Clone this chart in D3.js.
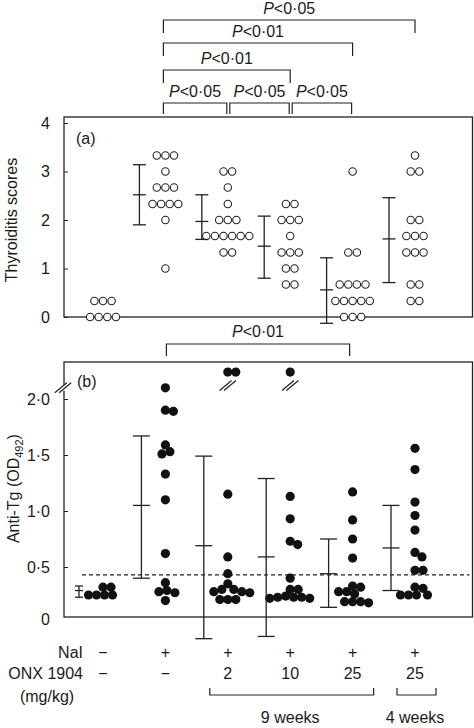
<!DOCTYPE html>
<html><head><meta charset="utf-8">
<script src="https://cdn.jsdelivr.net/npm/d3@7"></script>
<style>
body{margin:0;background:#fff}
text{font-family:"Liberation Sans",Arial,Helvetica,sans-serif;fill:#1a1a1a}
</style>
</head><body>
<svg id="c" width="474" height="728"></svg>
<script>
// ---------------- DATA ----------------
const groups = ["Control", "NaI", "NaI+ONX2", "NaI+ONX10", "NaI+ONX25 9wk", "NaI+ONX25 4wk"];
const naiLabels = ["\u2212", "+", "+", "+", "+", "+"];
const onxLabels = ["\u2212", "\u2212", "2", "10", "25", "25"];

// (a) Thyroiditis scores (individual animals)
const scoresCtrl   = [0.33, 0.33, 0.33, 0, 0, 0, 0];
const scoresNaI    = [3.33, 3.33, 3.33, 3, 2.67, 2.67, 2.67, 2.33, 2.33, 2.33, 2.33, 2, 1];
const scoresOnx2   = [3, 3, 2.67, 2.33, 2, 2, 2, 1.67, 1.67, 1.67, 1.67, 1.67, 1.67, 1.33, 1.33];
const scoresOnx10  = [2.33, 2.33, 2, 2, 2, 1.67, 1.33, 1.33, 1.33, 1, 1, 0.67, 0.67];
const scoresOnx25a = [3, 1.33, 1.33, 0.67, 0.67, 0.67, 0.67, 0.33, 0.33, 0.33, 0.33, 0.33, 0, 0, 0];
const scoresOnx25b = [3.33, 3, 3, 2, 2, 1.67, 1.67, 1.67, 1.33, 1.33, 1.33, 0.67, 0.67, 0.33, 0.33];
// mean and mean±s.d. for (a)
const meanA = [null, 2.52, 1.97, 1.46, 0.56, 1.61];
const hiA   = [null, 3.14, 2.52, 2.08, 1.22, 2.46];
const loA   = [null, 1.90, 1.60, 0.80, -0.13, 0.71];

// (b) Anti-Tg OD492 (values of 2.24 are plotted above the axis break)
const offScale = 2.24;
const tgCtrl   = [0.32, 0.32, 0.25, 0.25, 0.25, 0.25];
const tgNaI    = [2.10, 1.90, 1.89, 1.59, 1.53, 1.51, 1.33, 1.10, 0.62, 0.36, 0.29, 0.28, 0.27, 0.20];
const tgOnx2   = [offScale, offScale, 1.15, 0.59, 0.44, 0.35, 0.30, 0.30, 0.28, 0.28, 0.27, 0.21, 0.21, 0.21];
const tgOnx10  = [offScale, 1.13, 0.93, 0.73, 0.70, 0.40, 0.30, 0.30, 0.24, 0.23, 0.23, 0.23, 0.22, 0.22];
const tgOnx25a = [1.17, 0.92, 0.75, 0.58, 0.33, 0.32, 0.28, 0.28, 0.26, 0.19, 0.19, 0.19, 0.18];
const tgOnx25b = [1.56, 1.37, 1.08, 0.96, 0.83, 0.63, 0.59, 0.47, 0.47, 0.32, 0.31, 0.25, 0.25, 0.25, 0.25];
const meanB = [0.29, 1.05, 0.69, 0.59, 0.44, 0.67];
const hiB   = [0.33, 1.67, 1.49, 1.29, 0.75, 1.05];
const loB   = [0.23, 0.40, -0.14, -0.12, 0.14, 0.29];
const cutoffB = 0.43;

const ticksA = [0, 1, 2, 3, 4];
const ticksB = [0.5, 1.0, 1.5, 2.0];

// significance brackets: [from group index, to group index, label]
const compA = [[1, 2, "0·05"], [2, 3, "0·05"], [3, 4, "0·05"], [1, 3, "0·01"], [1, 4, "0·01"], [1, 5, "0·05"]];
const compB = [[1, 4, "0·01"]];

// ---------------- LAYOUT ----------------
const svg = d3.select("#c");
const ink = "#222";
const L = 64, R = 472.5;
const x = d3.scalePoint().domain(groups).range([103, 415]);
const yA = d3.scaleLinear().domain([0, 4]).range([317, 123]);
const yB = d3.scaleLinear().domain([0, 2]).range([623, 399]);
const topA = 117, botA = 317, topB = 362, botB = 617;

const dataA = [scoresCtrl, scoresNaI, scoresOnx2, scoresOnx10, scoresOnx25a, scoresOnx25b];
const dataB = [tgCtrl, tgNaI, tgOnx2, tgOnx10, tgOnx25a, tgOnx25b];

function line(g, x1, y1, x2, y2, w, extra) {
  const l = g.append("line").attr("x1", x1).attr("y1", y1).attr("x2", x2).attr("y2", y2)
    .attr("stroke", ink).attr("stroke-width", w || 1.2);
  if (extra) l.attr("stroke-dasharray", extra);
  return l;
}
function pText(g, cx, baseY, val) {
  const t = g.append("text").attr("x", cx).attr("y", baseY).attr("text-anchor", "middle").attr("font-size", 16);
  t.append("tspan").attr("font-style", "italic").text("P");
  t.append("tspan").text("<" + val);
}

// ---------------- PANEL A ----------------
const gA = svg.append("g");
gA.append("rect").attr("x", L).attr("y", topA).attr("width", R - L).attr("height", botA - topA)
  .attr("fill", "none").attr("stroke", ink).attr("stroke-width", 1.3);
gA.append("g").attr("transform", `translate(${L},0)`)
  .call(d3.axisLeft(yA).tickValues(ticksA).tickSize(-4).tickPadding(14).tickFormat(d3.format("d")))
  .call(g => { g.select(".domain").remove(); g.selectAll("line").attr("stroke", ink);
               g.selectAll("text").attr("font-size", 16).attr("fill", "#1a1a1a").style("font-family", "Liberation Sans, Arial, sans-serif"); });
gA.append("text").attr("transform", `translate(17,${(topA + botA) / 2 + 3}) rotate(-90)`)
  .attr("text-anchor", "middle").attr("font-size", 16).text("Thyroiditis scores");
gA.append("text").attr("x", 76).attr("y", 144).attr("font-size", 16).text("(a)");

// open circles arranged in rows
const rA = 3.7, stepA = 8.6;
dataA.forEach((vals, gi) => {
  const rows = d3.group(vals, v => v);
  rows.forEach((arr, v) => {
    arr.forEach((_, j) => {
      gA.append("circle").attr("cx", x(groups[gi]) + (j - (arr.length - 1) / 2) * stepA)
        .attr("cy", yA(v)).attr("r", rA).attr("fill", "#fff").attr("stroke", ink).attr("stroke-width", 1.1);
    });
  });
});
// error bars A
const offA = -26, capA = 13;
meanA.forEach((m, gi) => {
  if (m === null) return;
  const cx = x(groups[gi]) + offA;
  line(gA, cx, yA(hiA[gi]), cx, yA(loA[gi]), 1.3);
  [hiA[gi], m, loA[gi]].forEach(v => line(gA, cx - capA / 2, yA(v), cx + capA / 2, yA(v), 1.3));
});

// brackets above A
const levelY = [103, 70, 43, 20];
const levelOf = c => (c[1] - c[0] === 1 ? 0 : c[1] - c[0] - 1);
compA.forEach(c => {
  const lv = levelOf(c);
  const hy = levelY[lv];
  const x1 = x(groups[c[0]]) + (lv === 0 && c[0] > 1 ? 2 : -2);
  const x2 = x(groups[c[1]]) + (lv === 0 ? -1 : 0);
  const leg = lv === 0 ? 11 : 13;
  const p = d3.path(); p.moveTo(x1, hy + leg); p.lineTo(x1, hy); p.lineTo(x2, hy); p.lineTo(x2, hy + leg);
  svg.append("path").attr("d", p.toString()).attr("fill", "none").attr("stroke", ink).attr("stroke-width", 1.2);
  pText(svg, (x1 + x2) / 2, hy - 6, c[2]);
});

// ---------------- PANEL B ----------------
const gB = svg.append("g");
gB.append("rect").attr("x", L).attr("y", topB).attr("width", R - L).attr("height", botB - topB)
  .attr("fill", "none").attr("stroke", ink).attr("stroke-width", 1.3);
gB.append("g").attr("transform", `translate(${L},0)`)
  .call(d3.axisLeft(yB).tickValues(ticksB).tickSize(-4).tickPadding(14).tickFormat(d => d3.format(".1f")(d).replace(".", "·")))
  .call(g => { g.select(".domain").remove(); g.selectAll("line").attr("stroke", ink);
               g.selectAll("text").attr("font-size", 16).attr("fill", "#1a1a1a").style("font-family", "Liberation Sans, Arial, sans-serif"); });
gB.append("text").attr("x", L - 14).attr("y", botB + 8).attr("text-anchor", "end").attr("font-size", 16).text("0");
const yl = gB.append("text").attr("transform", `translate(19,${yB(1.2)}) rotate(-90)`)
  .attr("text-anchor", "middle").attr("font-size", 16);
yl.append("tspan").text("Anti-Tg (OD");
yl.append("tspan").attr("font-size", 11).attr("dy", 4).text("492");
yl.append("tspan").attr("dy", -4).text(")");
gB.append("text").attr("x", 77).attr("y", 387).attr("font-size", 16).text("(b)");

// axis-break marks
function breakMark(g, cx, cy) {
  [-2.2, 2.2].forEach(o => {
    g.append("line").attr("x1", cx - 6 + o).attr("y1", cy + 5).attr("x2", cx + 6 + o).attr("y2", cy - 5)
      .attr("stroke", ink).attr("stroke-width", 1.2);
  });
}
gB.append("rect").attr("x", L - 2).attr("y", yB(2.1) - 3).attr("width", 4).attr("height", 6).attr("fill", "#fff");
breakMark(gB, L - 1, yB(2.1));
breakMark(gB, x(groups[2]), yB(2.12));
breakMark(gB, x(groups[3]), yB(2.12));

// dashed cutoff
line(gB, 82, yB(cutoffB), R - 3, yB(cutoffB), 1.2, "4,3");

// beeswarm filled dots
const rB = 4.6;
function swarm(vals, ys, r) {
  const placed = [];
  const sorted = vals.slice().sort((a, b) => b - a);
  const minD = 2 * r * 0.86;
  sorted.forEach(v => {
    const y = ys(v);
    let best = 0;
    outer: for (let k = 0; k < 400; k++) {
      const cands = k === 0 ? [0] : [k * 0.5, -k * 0.5];
      for (const dx of cands) {
        if (placed.every(q => (q.x - dx) ** 2 + (q.y - y) ** 2 >= minD * minD)) { best = dx; break outer; }
      }
    }
    placed.push({ x: best, y, v });
  });
  return placed;
}
dataB.forEach((vals, gi) => {
  swarm(vals, yB, rB).forEach(p => {
    gB.append("circle").attr("cx", x(groups[gi]) + p.x).attr("cy", p.y).attr("r", rB).attr("fill", "#111");
  });
});
// error bars B
const offB = -24;
meanB.forEach((m, gi) => {
  const cx = x(groups[gi]) + offB;
  const cap = gi === 0 ? 8 : 17;
  line(gB, cx, yB(hiB[gi]), cx, yB(loB[gi]), 1.3);
  [hiB[gi], m, loB[gi]].forEach(v => line(gB, cx - cap / 2, yB(v), cx + cap / 2, yB(v), 1.3));
});
// bracket B
compB.forEach(c => {
  const x1 = x(groups[c[0]]) + 1, x2 = x(groups[c[1]]) - 3, hy = 344;
  const p = d3.path(); p.moveTo(x1, hy + 12); p.lineTo(x1, hy); p.lineTo(x2, hy); p.lineTo(x2, hy + 12);
  svg.append("path").attr("d", p.toString()).attr("fill", "none").attr("stroke", ink).attr("stroke-width", 1.2);
  pText(svg, (x1 + x2) / 2, hy - 7, c[2]);
});

// ---------------- BOTTOM LABELS ----------------
const gL = svg.append("g").attr("font-size", 16);
gL.append("text").attr("x", 83).attr("y", 658).attr("text-anchor", "end").attr("font-size", 16).text("NaI");
gL.append("text").attr("x", 83).attr("y", 679).attr("text-anchor", "end").attr("font-size", 16).text("ONX 1904");
gL.append("text").attr("x", 47).attr("y", 702).attr("text-anchor", "middle").attr("font-size", 16).text("(mg/kg)");
groups.forEach((g, i) => {
  gL.append("text").attr("x", x(g)).attr("y", 658).attr("text-anchor", "middle").attr("font-size", 16).text(naiLabels[i]);
  gL.append("text").attr("x", x(g)).attr("y", 679).attr("text-anchor", "middle").attr("font-size", 16).text(onxLabels[i]);
});
function underBracket(i1, i2, label) {
  const x1 = x(groups[i1]) - 18, x2 = x(groups[i2]) + 21, hy = 695;
  const p = d3.path(); p.moveTo(x1, hy - 7); p.lineTo(x1, hy); p.lineTo(x2, hy); p.lineTo(x2, hy - 7);
  svg.append("path").attr("d", p.toString()).attr("fill", "none").attr("stroke", ink).attr("stroke-width", 1.2);
  svg.append("text").attr("x", (x(groups[i1]) + x(groups[i2])) / 2).attr("y", 723)
    .attr("text-anchor", "middle").attr("font-size", 16).text(label);
}
underBracket(2, 4, "9 weeks");
underBracket(5, 5, "4 weeks");
</script>
</body></html>
